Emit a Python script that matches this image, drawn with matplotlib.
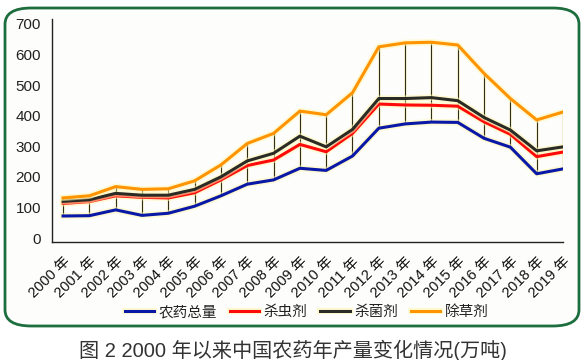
import numpy as np
import matplotlib
matplotlib.use("Agg")
import matplotlib.pyplot as plt
import matplotlib.patheffects as pe
from matplotlib.patches import FancyBboxPatch

plt.rcParams['font.family'] = ['Liberation Sans', 'Noto Sans CJK SC', 'DejaVu Sans']

# data (万吨)
years = [f"{y} 年" for y in range(2000, 2020)]
total = [72, 73, 92, 74, 81, 104, 138, 176, 190, 228, 221, 268, 359, 373, 379, 378, 326, 297, 210, 226]
insecticide = [113, 119, 138, 133, 131, 148, 190, 237, 255, 306, 282, 342, 438, 435, 434, 431, 380, 339, 266, 281]
fungicide = [120, 125, 146, 140, 140, 159, 200, 252, 277, 333, 298, 355, 456, 456, 459, 449, 394, 353, 285, 298]
herbicide = [131, 138, 168, 159, 161, 187, 239, 309, 342, 415, 403, 475, 625, 638, 640, 631, 538, 456, 386, 412]
series = [("农药总量", total, "#0a18a8"),
          ("杀虫剂", insecticide, "#ff0a0a"),
          ("杀菌剂", fungicide, "#2b2b26"),
          ("除草剂", herbicide, "#ff9300")]

fig = plt.figure(figsize=(5.86, 3.60), dpi=100)
fig.patch.set_facecolor("white")

# rounded green frame
frame = FancyBboxPatch((5 / 586, 1 - 326 / 360), 574 / 586, 318 / 360,
                       boxstyle="round,pad=0,rounding_size=0.045",
                       transform=fig.transFigure, facecolor="#fdfdfb",
                       edgecolor="#1d6e3e", linewidth=2.0, zorder=-5)
fig.patches.append(frame)

ax = fig.add_axes([52 / 586, 1 - 242 / 360, (563 - 52) / 586, (242 - 19) / 360])
ax.set_facecolor("none")
x = np.arange(len(years))

glow = [pe.Stroke(linewidth=4.5, foreground="#fff6b0", alpha=0.55), pe.Normal()]

# high-low lines
lo = np.min([total, insecticide, fungicide, herbicide], axis=0)
hi = np.max([total, insecticide, fungicide, herbicide], axis=0)
ax.vlines(x, lo, hi, colors="#2e2e1a", linewidth=0.8, zorder=2,
          path_effects=[pe.Stroke(linewidth=2.2, foreground="#fff6b0", alpha=0.4), pe.Normal()])

for name, vals, col in series:
    ax.plot(x, vals, color=col, linewidth=2.2, label=name, zorder=3,
            path_effects=glow, solid_joinstyle="round")

ax.set_xlim(-0.42, 19.0)
ax.set_ylim(-13, 716)
ax.set_yticks(range(0, 701, 100))
ax.tick_params(axis="y", length=0, pad=8, labelsize=11, labelcolor="#222222")
ax.set_xticks(x)
ax.set_xticklabels(years, rotation=45, ha="right", va="top", rotation_mode="anchor",
                   fontsize=10.5, color="#111111")
ax.tick_params(axis="x", length=0, pad=9)
for s in ["top", "right"]:
    ax.spines[s].set_visible(False)
for s in ["left", "bottom"]:
    ax.spines[s].set_color("#222222")
    ax.spines[s].set_linewidth(1.0)

handles, labels = ax.get_legend_handles_labels()
fig.legend(handles, labels, loc="center", bbox_to_anchor=(0.523, 1 - 312 / 360),
           ncol=4, frameon=False, fontsize=10.5, handlelength=2.0,
           handletextpad=0.3, columnspacing=0.9, labelcolor="#222222")

fig.text(0.5, 1 - 350 / 360, "图 2 2000 年以来中国农药年产量变化情况(万吨)",
         ha="center", va="center", fontsize=14.5, color="#333333")

fig.savefig("out.png", dpi=100)
